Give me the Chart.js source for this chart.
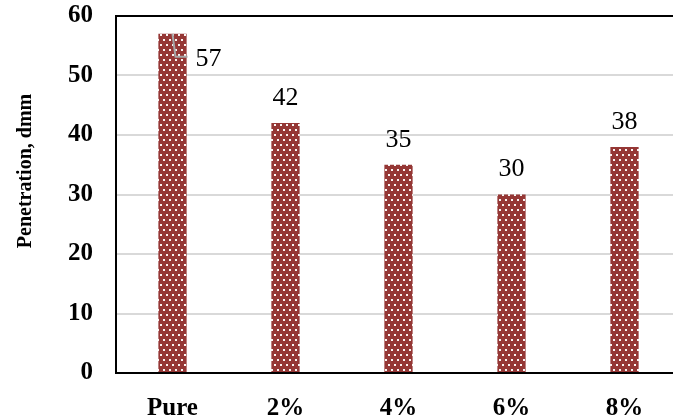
<!DOCTYPE html>
<html>
<head>
<meta charset="utf-8">
<script src="https://cdn.jsdelivr.net/npm/chart.js@4.4.1/dist/chart.umd.min.js"></script>
<style>
  html, body { margin: 0; padding: 0; background: #fff; overflow: hidden; }
  #wrap { width: 690px; height: 418px; overflow: hidden; }
  #chartPenetration { display: block; margin-top: -22px; }
</style>
</head>
<body>
<div id="wrap"><canvas id="chartPenetration" width="690" height="440"></canvas></div>
<script>
// Penetration by additive content, bars with a dotted fill.

const CATEGORIES = ['Pure', '2%', '4%', '6%', '8%'];
const PENETRATION = [57, 42, 35, 30, 38];
const Y_MIN = 0;
const Y_MAX = 60;
const Y_STEP = 10;
const Y_TITLE = 'Penetration, dmm';

const BAR_COLOR = '#953735';
const SERIF = "'Liberation Serif', 'Times New Roman', serif";
const SHIFT = 22; // canvas is pulled up by this much

function dottedPattern() {
    const tile = document.createElement('canvas');
    tile.width = 6;
    tile.height = 10;
    const t = tile.getContext('2d');
    t.fillStyle = BAR_COLOR;
    t.fillRect(0, 0, 6, 10);
    t.fillStyle = 'rgba(255,255,255,0.95)';
    t.fillRect(1, 1, 2, 2);
    t.fillRect(4, 6, 2, 2);
    const ctx = document.getElementById('chartPenetration').getContext('2d');
    return ctx.createPattern(tile, 'repeat');
}

// value labels above bars; the first one sits to the right with a leader line
const valueLabels = {
    id: 'valueLabels',
    afterDatasetsDraw(chart) {
        const ctx = chart.ctx;
        const meta = chart.getDatasetMeta(0);
        ctx.save();
        ctx.font = '26px ' + SERIF;
        ctx.fillStyle = '#000';
        ctx.textBaseline = 'middle';
        meta.data.forEach((bar, i) => {
            const txt = String(PENETRATION[i]);
            if (i === 0) {
                ctx.strokeStyle = '#a6a6a6';
                ctx.lineWidth = 2;
                ctx.beginPath();
                ctx.moveTo(bar.x, bar.y);
                ctx.lineTo(bar.x + 3, bar.y + 23);
                ctx.lineTo(bar.x + 15, bar.y + 23);
                ctx.stroke();
                ctx.textAlign = 'left';
                ctx.fillText(txt, bar.x + 23, bar.y + 25);
            } else {
                ctx.textAlign = 'center';
                ctx.fillText(txt, bar.x, bar.y - 25);
            }
        });
        ctx.restore();
    }
};

// frame on top of the plot + rotated axis title
const frameAndTitle = {
    id: 'frameAndTitle',
    afterDraw(chart) {
        const { ctx, chartArea } = chart;
        ctx.save();
        ctx.strokeStyle = '#000';
        ctx.lineWidth = 2;
        ctx.beginPath();
        ctx.moveTo(chartArea.left - 1, chartArea.top);
        ctx.lineTo(chartArea.right, chartArea.top);
        ctx.stroke();

        ctx.translate(26, 171 + SHIFT);
        ctx.rotate(-Math.PI / 2);
        ctx.font = 'bold 20px ' + SERIF;
        ctx.fillStyle = '#000';
        ctx.textAlign = 'center';
        ctx.textBaseline = 'middle';
        ctx.fillText(Y_TITLE, 0, 0);
        ctx.restore();
    }
};

new Chart(document.getElementById('chartPenetration'), {
    type: 'bar',
    data: {
        labels: CATEGORIES,
        datasets: [{
            data: PENETRATION,
            backgroundColor: dottedPattern(),
            borderWidth: 0,
            barPercentage: 0.5,
            categoryPercentage: 0.5
        }]
    },
    options: {
        responsive: false,
        animation: false,
        layout: { padding: { top: 0, right: 9, bottom: 0, left: 0 } },
        plugins: {
            legend: { display: false },
            tooltip: { enabled: false }
        },
        scales: {
            x: {
                grid: { display: false },
                border: { color: '#000', width: 2 },
                ticks: {
                    color: '#000',
                    padding: 13,
                    font: { family: SERIF, size: 25, weight: 'bold' }
                },
                afterFit: s => { s.height = 45; }
            },
            y: {
                min: Y_MIN,
                max: Y_MAX,
                grid: { color: '#d9d9d9', lineWidth: 2, drawTicks: false },
                border: { color: '#000', width: 2 },
                ticks: {
                    stepSize: Y_STEP,
                    color: '#000',
                    padding: 23,
                    font: { family: SERIF, size: 25, weight: 'bold' }
                },
                afterFit: s => { s.width = 116; }
            }
        }
    },
    plugins: [valueLabels, frameAndTitle]
});
</script>
</body>
</html>
